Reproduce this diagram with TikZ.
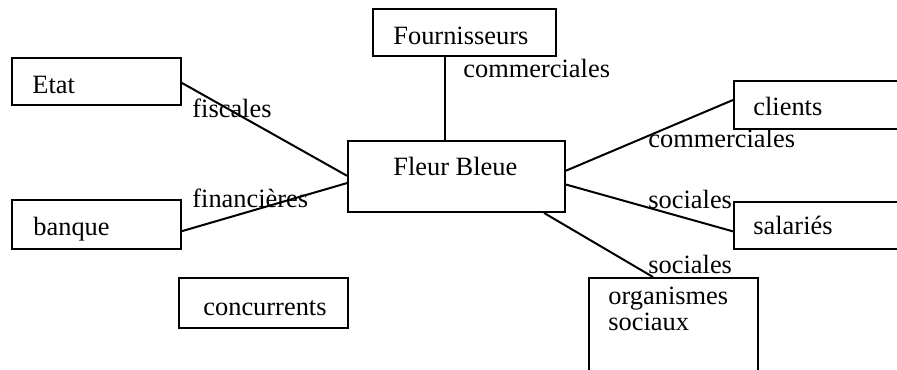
\documentclass[tikz,border=0pt]{standalone}
\usepackage{fontspec}
\setmainfont{Liberation Serif}
\usetikzlibrary{calc}
\begin{document}
\begin{tikzpicture}[x=0.5pt,y=-0.5pt,
  box/.style={draw,line width=1pt,rectangle,inner sep=0pt,anchor=north west},
  txt/.style={anchor=base west,inner sep=0pt,font=\fontsize{13.2}{15.8}\selectfont},
  link/.style={line width=1pt}]
\useasboundingbox (0,0) rectangle (897,369);
% boxes
\node[box,minimum width=84.5pt,minimum height=23.5pt] (etat) at (11,57) {};
\node[box,minimum width=84.5pt,minimum height=24.5pt] (banque) at (11,199) {};
\node[box,minimum width=91.5pt,minimum height=23.5pt] (fourn) at (372,8) {};
\node[box,minimum width=108.5pt,minimum height=35.5pt] (fb) at (347,140) {};
\node[box,minimum width=90pt,minimum height=24pt] (clients) at (733,80) {};
\node[box,minimum width=90pt,minimum height=23.5pt] (salaries) at (733,201) {};
\node[box,minimum width=84.5pt,minimum height=55pt] (orga) at (588,277) {};
\node[box,minimum width=84.5pt,minimum height=25pt] (conc) at (178,277) {};
% box texts
\node[txt] (tetat) at (32,93) {Etat};
\node[txt] (tbanque) at (33,235) {banque};
\node[txt] (tfourn) at (393,45) {Fournisseurs};
\node[txt] (tfb) at (393,175) {Fleur Bleue};
\node[txt] (tclients) at (753,115) {clients};
\node[txt] (tsalaries) at (753,234) {salariés};
\node[txt] (torga1) at (608,304) {organismes};
\node[txt] (torga2) at (608,330) {sociaux};
\node[txt] (tconc) at (203,315) {concurrents};
% connectors
\coordinate (fs) at ($(fourn.south west)!0.393!(fourn.south east)$);
\draw[link] (fs) -- (fs |- fb.north);
\draw[link] ($(etat.north east)!0.53!(etat.south east)$) -- ($(fb.north west)!0.49!(fb.south west)$);
\draw[link] ($(banque.north east)!0.63!(banque.south east)$) -- ($(fb.north west)!0.59!(fb.south west)$);
\draw[link] ($(fb.north east)!0.42!(fb.south east)$) -- ($(clients.north west)!0.40!(clients.south west)$);
\draw[link] ($(fb.north east)!0.61!(fb.south east)$) -- ($(salaries.north west)!0.62!(salaries.south west)$);
\draw[link] ($(fb.south west)!0.9!(fb.south east)$) -- ($(orga.north west)!0.38!(orga.north east)$);
% connector labels
\node[txt] (lcom1) at (463,77) {commerciales};
\node[txt] (lfis) at (192,117) {fiscales};
\node[txt] (lfin) at (192,207) {financières};
\node[txt] (lcom2) at (648,147) {commerciales};
\node[txt] (lsoc1) at (648,208) {sociales};
\node[txt] (lsoc2) at (648,273) {sociales};
\end{tikzpicture}
\end{document}
